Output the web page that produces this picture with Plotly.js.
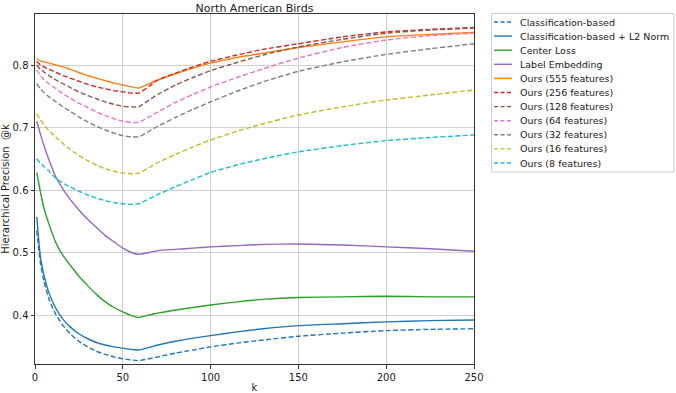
<!DOCTYPE html>
<html>
<head>
<meta charset="utf-8">
<script src="https://cdn.plot.ly/plotly-3.0.1.min.js"></script>
<style>
  html, body { margin: 0; padding: 0; background: #fff; }
  #chart { width: 676px; height: 393px; }
</style>
</head>
<body>
<div id="chart"></div>
<script>
// k values sampled along the curves
const kValues = [1, 3, 5, 8, 12, 16, 20, 25, 30, 35, 40, 45, 50, 55, 59, 65, 70, 80, 90, 100, 115, 130, 150, 175, 200, 225, 250];

const classBased = [0.535, 0.485, 0.455, 0.425, 0.400, 0.383, 0.370, 0.358, 0.349, 0.342, 0.337, 0.333, 0.330, 0.328, 0.327, 0.330, 0.333, 0.339, 0.344, 0.349, 0.355, 0.360, 0.366, 0.371, 0.375, 0.377, 0.378];
const classL2 = [0.557, 0.495, 0.465, 0.435, 0.410, 0.393, 0.381, 0.370, 0.362, 0.356, 0.352, 0.349, 0.347, 0.345, 0.344, 0.348, 0.352, 0.358, 0.363, 0.367, 0.373, 0.378, 0.383, 0.386, 0.389, 0.391, 0.392];
const centerLoss = [0.628, 0.598, 0.572, 0.545, 0.515, 0.495, 0.480, 0.462, 0.447, 0.433, 0.421, 0.412, 0.405, 0.399, 0.396, 0.400, 0.403, 0.408, 0.412, 0.416, 0.421, 0.425, 0.428, 0.429, 0.430, 0.429, 0.429];
const labelEmb = [0.710, 0.690, 0.672, 0.648, 0.620, 0.601, 0.585, 0.568, 0.553, 0.540, 0.527, 0.517, 0.507, 0.500, 0.497, 0.500, 0.503, 0.505, 0.507, 0.509, 0.511, 0.513, 0.5135, 0.512, 0.509, 0.506, 0.502];
const ours555 = [0.810, 0.807, 0.805, 0.803, 0.800, 0.797, 0.793, 0.788, 0.783, 0.779, 0.775, 0.771, 0.768, 0.765, 0.763, 0.770, 0.776, 0.786, 0.795, 0.803, 0.812, 0.819, 0.828, 0.837, 0.845, 0.849, 0.852];
const ours256 = [0.806, 0.800, 0.797, 0.793, 0.788, 0.783, 0.779, 0.774, 0.769, 0.765, 0.762, 0.759, 0.757, 0.755, 0.755, 0.766, 0.776, 0.787, 0.797, 0.806, 0.816, 0.825, 0.834, 0.845, 0.853, 0.857, 0.860];
const ours128 = [0.800, 0.793, 0.789, 0.783, 0.776, 0.770, 0.764, 0.757, 0.751, 0.746, 0.741, 0.737, 0.734, 0.733, 0.733, 0.744, 0.753, 0.768, 0.780, 0.791, 0.804, 0.816, 0.829, 0.841, 0.851, 0.856, 0.859];
const ours64 = [0.792, 0.783, 0.777, 0.770, 0.762, 0.754, 0.747, 0.739, 0.732, 0.725, 0.719, 0.714, 0.710, 0.708, 0.708, 0.717, 0.725, 0.740, 0.753, 0.765, 0.780, 0.794, 0.811, 0.828, 0.840, 0.847, 0.851];
const ours32 = [0.770, 0.762, 0.756, 0.749, 0.741, 0.733, 0.726, 0.717, 0.709, 0.702, 0.696, 0.691, 0.687, 0.685, 0.685, 0.694, 0.702, 0.716, 0.729, 0.741, 0.758, 0.773, 0.790, 0.805, 0.817, 0.826, 0.834];
const ours16 = [0.722, 0.713, 0.705, 0.695, 0.684, 0.674, 0.665, 0.655, 0.647, 0.640, 0.634, 0.630, 0.627, 0.626, 0.627, 0.636, 0.644, 0.657, 0.669, 0.680, 0.694, 0.706, 0.720, 0.733, 0.744, 0.752, 0.760];
const ours8 = [0.650, 0.643, 0.638, 0.630, 0.618, 0.611, 0.605, 0.598, 0.592, 0.587, 0.583, 0.580, 0.578, 0.577, 0.578, 0.586, 0.593, 0.605, 0.617, 0.628, 0.640, 0.650, 0.661, 0.671, 0.679, 0.684, 0.688];

const xTicks = [0, 50, 100, 150, 200, 250];
const yTicks = [0.4, 0.5, 0.6, 0.7, 0.8];

const series = [
  { name: "Classification-based", y: classBased, color: "#1f77b4", dash: true },
  { name: "Classification-based + L2 Norm", y: classL2, color: "#1f77b4", dash: false },
  { name: "Center Loss", y: centerLoss, color: "#2ca02c", dash: false },
  { name: "Label Embedding", y: labelEmb, color: "#9467bd", dash: false },
  { name: "Ours (555 features)", y: ours555, color: "#ff7f0e", dash: false },
  { name: "Ours (256 features)", y: ours256, color: "#d62728", dash: true },
  { name: "Ours (128 features)", y: ours128, color: "#8c564b", dash: true },
  { name: "Ours (64 features)", y: ours64, color: "#e377c2", dash: true },
  { name: "Ours (32 features)", y: ours32, color: "#7f7f7f", dash: true },
  { name: "Ours (16 features)", y: ours16, color: "#bcbd22", dash: true },
  { name: "Ours (8 features)", y: ours8, color: "#17becf", dash: true },
];

const font = "DejaVu Sans, sans-serif";
const textColor = "#1a1a1a";
const dashStyle = "5px,2.5px";

const traces = series.map((s) => ({
  x: kValues,
  y: s.y,
  name: s.name,
  type: "scatter",
  mode: "lines",
  showlegend: false,
  line: { color: s.color, width: 1.4, dash: s.dash ? dashStyle : "solid", shape: "spline", smoothing: 0.5 },
}));

// plot box in pixels, used to place the matplotlib-style legend outside it
const W = 676, H = 393;
const box = { l: 35, r: 474, t: 14, b: 364 };
const px2x = (px) => (px - box.l) / (box.r - box.l);
const px2y = (py) => (box.b - py) / (box.b - box.t);

// legend: 14px rows, line sample then label
const legTop = 22, rowH = 14.1;
const shapes = [
  {
    type: "rect", xref: "paper", yref: "paper",
    x0: px2x(491.5), x1: px2x(674), y0: px2y(13.5), y1: px2y(172),
    line: { color: "#cccccc", width: 1 }, fillcolor: "#fff", layer: "above",
  },
];
const annotations = [];
series.forEach((s, i) => {
  const yy = px2y(legTop + i * rowH);
  shapes.push({
    type: "line", xref: "paper", yref: "paper",
    x0: px2x(494), x1: px2x(512), y0: yy, y1: yy,
    line: { color: s.color, width: 1.4, dash: s.dash ? "4px,2.5px" : "solid" },
    layer: "above",
  });
  annotations.push({
    xref: "paper", yref: "paper", x: px2x(518), y: yy,
    xanchor: "left", yanchor: "middle", showarrow: false,
    text: s.name, font: { family: font, size: 9.5, color: textColor },
  });
});

const layout = {
  width: W,
  height: H,
  margin: { l: box.l, r: W - box.r, t: box.t, b: H - box.b },
  paper_bgcolor: "#fff",
  plot_bgcolor: "#fff",
  font: { family: font, size: 10, color: textColor },
  showlegend: false,
  title: {
    text: "North American Birds",
    font: { family: font, size: 11, color: textColor },
    x: 0.5,
    xref: "paper",
    xanchor: "center",
    y: 1,
    yref: "paper",
    yanchor: "bottom",
    pad: { b: 2 },
  },
  xaxis: {
    range: [0, 250],
    tickvals: xTicks,
    ticks: "outside",
    ticklen: 3.5,
    tickcolor: "#333",
    tickfont: { family: font, size: 10, color: textColor },
    showline: true,
    linecolor: "#333",
    linewidth: 1,
    mirror: true,
    showgrid: true,
    gridcolor: "#d0d0d0",
    zeroline: false,
    title: { text: "k", font: { family: font, size: 10, color: textColor }, standoff: 3 },
  },
  yaxis: {
    range: [0.3216, 0.8816],
    tickvals: yTicks,
    ticktext: yTicks.map((v) => v.toFixed(1)),
    ticks: "outside",
    ticklen: 3.5,
    tickcolor: "#333",
    tickfont: { family: font, size: 10, color: textColor },
    showline: true,
    linecolor: "#333",
    linewidth: 1,
    mirror: true,
    showgrid: true,
    gridcolor: "#d0d0d0",
    zeroline: false,
    title: { text: "Hierarchical Precision  @k", font: { family: font, size: 10, color: textColor }, standoff: 3 },
  },
  shapes: shapes,
  annotations: annotations,
};

Plotly.newPlot("chart", traces, layout, { displayModeBar: false, staticPlot: true });
</script>
</body>
</html>
